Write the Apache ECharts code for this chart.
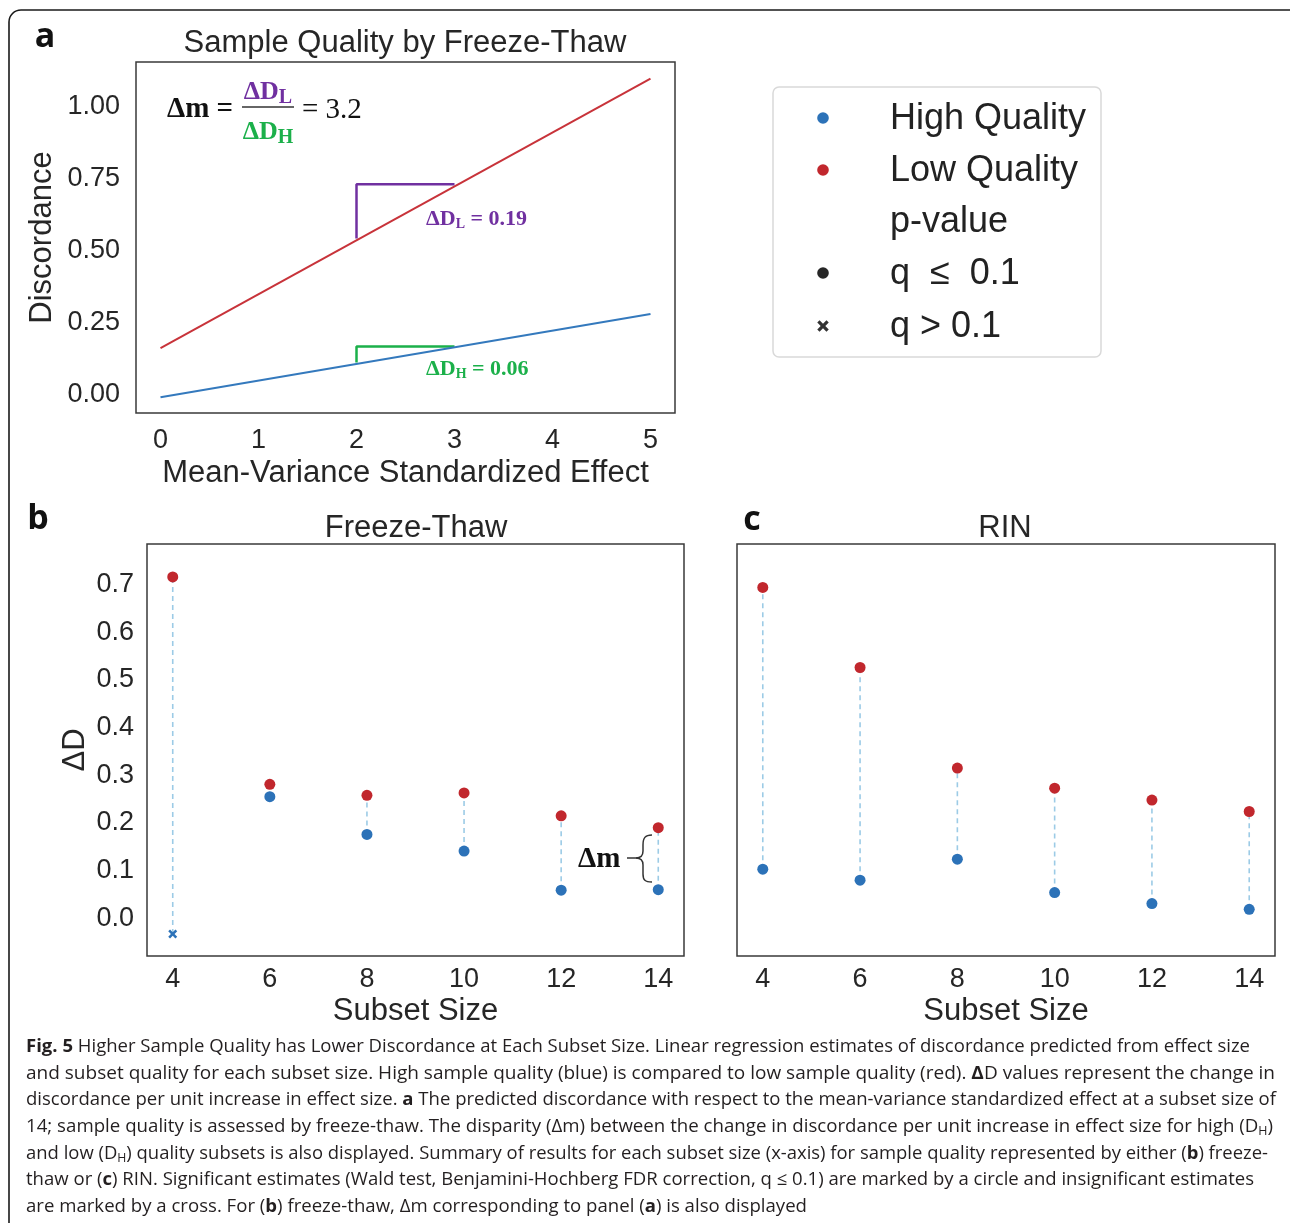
<!DOCTYPE html>
<html><head><meta charset="utf-8">
<script src="https://cdn.jsdelivr.net/npm/echarts@6/dist/echarts.min.js"></script>
<style>html,body{margin:0;padding:0;background:#fff}#c{width:1290px;height:1223px}</style>
</head><body><div id="c"></div>
<script>
// ---------- data ----------
const effectX = [0, 5];
const effectHigh = [-0.008, 0.281];
const effectLow = [0.162, 1.098];
const slopeLowX = [2, 2, 3];
const slopeLowY = [0.543, 0.731, 0.731];
const slopeHighX = [2, 2, 3];
const slopeHighY = [0.112, 0.168, 0.168];
const effectTicks = [0, 1, 2, 3, 4, 5];
const discordanceTicks = [0, 0.25, 0.5, 0.75, 1.0];

const subsetSizes = [4, 6, 8, 10, 12, 14];
const ftHigh = [-0.033, 0.255, 0.176, 0.141, 0.059, 0.060];
const ftLow  = [0.716, 0.281, 0.258, 0.263, 0.215, 0.190];
const ftHighSignificant = [false, true, true, true, true, true];
const ftLowSignificant  = [true, true, true, true, true, true];
const rinHigh = [0.103, 0.080, 0.124, 0.054, 0.031, 0.019];
const rinLow  = [0.694, 0.526, 0.315, 0.273, 0.248, 0.224];
const rinHighSignificant = [true, true, true, true, true, true];
const rinLowSignificant  = [true, true, true, true, true, true];
const deltaDTicks = [0, 0.1, 0.2, 0.3, 0.4, 0.5, 0.6, 0.7];

const legendLabels = ['High Quality', 'Low Quality', 'p-value', 'q  \u2264  0.1', 'q > 0.1'];

// ---------- styling ----------
const BLUE = '#2c72b8', RED = '#c1272d', LINE_BLUE = '#3479bd', LINE_RED = '#c8333a';
const PURPLE = '#7030a0', GREEN = '#1bb04a', DASH = '#9ccbe6', INK = '#262626';
const SANS = '"Liberation Sans", Arial, Helvetica, sans-serif';
const SERIF = '"Liberation Serif", "Times New Roman", serif';
const CAP = '"Open Sans", "Noto Sans", sans-serif';
const CROSS = 'path://M2,0 L5,3 L8,0 L10,2 L7,5 L10,8 L8,10 L5,7 L2,10 L0,8 L3,5 L0,2 Z';

const chart = echarts.init(document.getElementById('c'), null, {renderer: 'canvas'});

function pts(xs, ys) { return xs.map((x, i) => [x, ys[i]]); }

function dots(name, idx, vals, sig, color) {
  return {
    type: 'scatter', name, xAxisIndex: idx, yAxisIndex: idx, z: 4,
    data: subsetSizes.map((s, i) => ({
      value: [s, vals[i]],
      symbol: sig[i] ? 'circle' : CROSS,
      symbolSize: sig[i] ? 11 : 9
    })),
    itemStyle: {color, opacity: 1},
    emphasis: {disabled: true}
  };
}
function connectors(idx, high, low) {
  return {
    type: 'custom', xAxisIndex: idx, yAxisIndex: idx, z: 2, silent: true,
    data: subsetSizes.map((s, i) => [s, high[i], low[i]]),
    encode: {x: 0, y: [1, 2]},
    renderItem: (params, api) => {
      const a = api.coord([api.value(0), api.value(1)]);
      const b = api.coord([api.value(0), api.value(2)]);
      return {type: 'line', shape: {x1: a[0], y1: a[1], x2: b[0], y2: b[1]},
        style: {stroke: DASH, lineWidth: 1.6, lineDash: [5, 4]}};
    }
  };
}

const tickLabel = {fontSize: 27, color: INK, fontFamily: SANS};
const nameStyle = {fontSize: 31, color: INK, fontFamily: SANS};

// ---------- caption ----------
const captionLines = [
  [['b','Fig. 5'],['n',' Higher Sample Quality has Lower Discordance at Each Subset Size. Linear regression estimates of discordance predicted from effect size']],
  [['n','and subset quality for each subset size. High sample quality (blue) is compared to low sample quality (red). '],['b','\u0394'],['n','D values represent the change in']],
  [['n','discordance per unit increase in effect size. '],['b','a'],['n',' The predicted discordance with respect to the mean-variance standardized effect at a subset size of']],
  [['n','14; sample quality is assessed by freeze-thaw. The disparity (\u0394m) between the change in discordance per unit increase in effect size for high (D'],['s','H'],['n',')']],
  [['n','and low (D'],['s','H'],['n',') quality subsets is also displayed. Summary of results for each subset size (x-axis) for sample quality represented by either ('],['b','b'],['n',') freeze-']],
  [['n','thaw or ('],['b','c'],['n',') RIN. Significant estimates (Wald test, Benjamini-Hochberg FDR correction, q \u2264 0.1) are marked by a circle and insignificant estimates']],
  [['n','are marked by a cross. For ('],['b','b'],['n',') freeze-thaw, \u0394m corresponding to panel ('],['b','a'],['n',') is also displayed']]
];
const captionRight = [1250, 1275, 1276, 1273, 1268, 1254, 807];
const captionTop = 1047, captionStep = 26.65, captionLeft = 26;
const capFonts = {n: {size: 18, w: 'normal'}, b: {size: 18, w: 'bold'}, s: {size: 12, w: 'normal'}};
const mctx = document.createElement('canvas').getContext('2d');
function segWidth(kind, txt) {
  const f = capFonts[kind];
  mctx.font = f.w + ' ' + f.size + 'px "Open Sans"';
  return mctx.measureText(txt).width;
}
const captionEls = captionLines.map((segs, li) => {
  const w = segs.reduce((acc, s) => acc + segWidth(s[0], s[1]), 0);
  const target = captionRight[li] - captionLeft;
  return {
    type: 'text', x: captionLeft, y: captionTop + li * captionStep, scaleX: target / w, silent: true,
    style: {
      text: segs.map(s => '{' + s[0] + '|' + s[1] + '}').join(''),
      textAlign: 'left', textVerticalAlign: 'middle',
      rich: {
        n: {fontSize: 18, fontFamily: CAP, fill: '#231f20', color: '#231f20'},
        b: {fontSize: 18, fontFamily: CAP, fontWeight: 'bold', fill: '#231f20', color: '#231f20'},
        s: {fontSize: 12, fontFamily: CAP, fill: '#231f20', color: '#231f20', padding: [9, 0, 0, 0]}
      }
    }
  };
});

// ---------- legend (drawn) ----------
const legendRowY = [118, 170, 221, 273, 326];
const legendSymbols = [['circle', BLUE], ['circle', RED], null, ['circle', '#262626'], ['cross', '#333']];
const legendEls = [{
  type: 'rect', shape: {x: 773, y: 87, width: 328, height: 270, r: 6},
  style: {fill: '#fff', stroke: '#d9d9d9', lineWidth: 1.5}, silent: true
}];
legendLabels.forEach((lab, i) => {
  const sym = legendSymbols[i];
  if (sym && sym[0] === 'circle') {
    legendEls.push({type: 'circle', shape: {cx: 823, cy: legendRowY[i], r: 5.8}, style: {fill: sym[1]}, silent: true});
  } else if (sym) {
    const cx = 823, cy = legendRowY[i], s = 1.15;
    const p = [[2,0],[5,3],[8,0],[10,2],[7,5],[10,8],[8,10],[5,7],[2,10],[0,8],[3,5],[0,2]]
      .map(q => [cx + (q[0] - 5) * s, cy + (q[1] - 5) * s]);
    legendEls.push({type: 'polygon', shape: {points: p}, style: {fill: sym[1]}, silent: true});
  }
  legendEls.push({type: 'text', x: 890, y: legendRowY[i] + 1, silent: true,
    style: {text: lab, fontSize: 36, fontFamily: SANS, fill: '#222', textAlign: 'left', textVerticalAlign: 'middle'}});
});

function gtext(txt, x, y, opts) {
  return Object.assign({type: 'text', x, y, silent: true,
    style: Object.assign({text: txt, textAlign: 'center', textVerticalAlign: 'middle', fill: INK}, opts)});
}
const subRich = (color, size, subSize) => ({
  d: {fontSize: size, fontFamily: SERIF, fontWeight: 'bold', fill: color, color},
  s: {fontSize: subSize, fontFamily: SERIF, fontWeight: 'bold', fill: color, color, padding: [Math.round(size * 0.45), 0, 0, 0]}
});
function seg(x1, y1, x2, y2) {
  return {type: 'line', silent: true, shape: {x1, y1, x2, y2}, style: {stroke: '#333', lineWidth: 1.5}};
}
function curve(x1, y1, cpx1, cpy1, cpx2, cpy2, x2, y2) {
  return {type: 'bezierCurve', silent: true, shape: {x1, y1, cpx1, cpy1, cpx2, cpy2, x2, y2},
    style: {stroke: '#333', lineWidth: 1.5, fill: null}};
}

const annotEls = [
  // panel letters & titles
  gtext('a', 45, 37, {fontSize: 34, fontWeight: 'bold', fontFamily: CAP, fill: '#111'}),
  gtext('b', 38, 519, {fontSize: 34, fontWeight: 'bold', fontFamily: CAP, fill: '#111'}),
  gtext('c', 752, 520, {fontSize: 34, fontWeight: 'bold', fontFamily: CAP, fill: '#111'}),
  gtext('Sample Quality by Freeze-Thaw', 405, 43, {fontSize: 31, fontFamily: SANS}),
  gtext('Freeze-Thaw', 416, 528, {fontSize: 31, fontFamily: SANS}),
  gtext('RIN', 1005, 528, {fontSize: 31, fontFamily: SANS}),
  // formula in panel a
  gtext('\u0394m =', 167, 110, {fontSize: 29, fontFamily: SERIF, fontWeight: 'bold', textAlign: 'left', fill: '#111'}),
  seg(242, 107, 294, 107),
  gtext('{d|\u0394D}{s|L}', 268, 92, {rich: subRich(PURPLE, 26, 20)}),
  gtext('{d|\u0394D}{s|H}', 268, 132, {rich: subRich(GREEN, 26, 20)}),
  gtext('= 3.2', 302, 110, {fontSize: 29, fontFamily: SERIF, textAlign: 'left', fill: '#111'}),
  gtext('{d|\u0394D}{s|L}{d| = 0.19}', 426, 219, {textAlign: 'left', rich: subRich(PURPLE, 22, 14)}),
  gtext('{d|\u0394D}{s|H}{d| = 0.06}', 426, 369, {textAlign: 'left', rich: subRich(GREEN, 22, 14)}),
  // delta-m brace in panel b
  gtext('\u0394m', 578, 860, {fontSize: 29, fontFamily: SERIF, fontWeight: 'bold', textAlign: 'left', fill: '#111'}),
  curve(652, 835, 645, 835, 643, 838, 643, 845),
  seg(643, 845, 643, 851),
  curve(643, 851, 643, 856, 641, 858, 636, 858),
  curve(636, 858, 641, 858, 643, 860, 643, 865),
  seg(643, 865, 643, 874),
  curve(643, 874, 643, 880, 645, 882, 652, 882),
  seg(627, 858, 636, 858),
  // outer frame
  {type: 'rect', silent: true, z: 100, shape: {x: 9, y: 10, width: 1300, height: 1260, r: 12},
   style: {fill: null, stroke: '#1a1a1a', lineWidth: 1.6}}
];

const option = {
  backgroundColor: '#fff',
  animation: false,
  grid: [
    {left: 136, top: 62, width: 539, height: 351, show: true, borderColor: '#3a3a3a', borderWidth: 1.5, backgroundColor: 'transparent'},
    {left: 147, top: 544, width: 537, height: 412, show: true, borderColor: '#3a3a3a', borderWidth: 1.5, backgroundColor: 'transparent'},
    {left: 737, top: 544, width: 538, height: 412, show: true, borderColor: '#3a3a3a', borderWidth: 1.5, backgroundColor: 'transparent'}
  ],
  xAxis: [
    {type: 'value', gridIndex: 0, min: -0.25, max: 5.25,
     axisLine: {show: false}, axisTick: {show: false}, splitLine: {show: false},
     axisLabel: Object.assign({margin: 14, customValues: effectTicks}, tickLabel),
     name: 'Mean-Variance Standardized Effect', nameLocation: 'middle', nameGap: 45, nameTextStyle: nameStyle},
    {type: 'value', gridIndex: 1, min: 3.47, max: 14.53,
     axisLine: {show: false}, axisTick: {show: false}, splitLine: {show: false},
     axisLabel: Object.assign({margin: 10, customValues: subsetSizes}, tickLabel),
     name: 'Subset Size', nameLocation: 'middle', nameGap: 40, nameTextStyle: nameStyle},
    {type: 'value', gridIndex: 2, min: 3.47, max: 14.53,
     axisLine: {show: false}, axisTick: {show: false}, splitLine: {show: false},
     axisLabel: Object.assign({margin: 10, customValues: subsetSizes}, tickLabel),
     name: 'Subset Size', nameLocation: 'middle', nameGap: 40, nameTextStyle: nameStyle}
  ],
  yAxis: [
    {type: 'value', gridIndex: 0, min: -0.063, max: 1.156,
     axisLine: {show: false}, axisTick: {show: false}, splitLine: {show: false},
     axisLabel: Object.assign({margin: 16, customValues: discordanceTicks, formatter: v => v.toFixed(2)}, tickLabel),
     name: 'Discordance', nameLocation: 'middle', nameGap: 78, nameRotate: 90, nameTextStyle: nameStyle},
    {type: 'value', gridIndex: 1, min: -0.079, max: 0.785,
     axisLine: {show: false}, axisTick: {show: false}, splitLine: {show: false},
     axisLabel: Object.assign({margin: 13, customValues: deltaDTicks, formatter: v => v.toFixed(1)}, tickLabel),
     name: '\u0394D', nameLocation: 'middle', nameGap: 56, nameRotate: 90, nameTextStyle: nameStyle},
    {type: 'value', gridIndex: 2, min: -0.079, max: 0.785,
     axisLine: {show: false}, axisTick: {show: false}, splitLine: {show: false},
     axisLabel: {show: false}}
  ],
  series: [
    {type: 'line', name: 'High Quality fit', xAxisIndex: 0, yAxisIndex: 0, data: pts(effectX, effectHigh),
     showSymbol: false, lineStyle: {color: LINE_BLUE, width: 2}, z: 3, silent: true},
    {type: 'line', name: 'Low Quality fit', xAxisIndex: 0, yAxisIndex: 0, data: pts(effectX, effectLow),
     showSymbol: false, lineStyle: {color: LINE_RED, width: 2}, z: 3, silent: true},
    {type: 'line', name: '\u0394DL', xAxisIndex: 0, yAxisIndex: 0, data: pts(slopeLowX, slopeLowY),
     showSymbol: false, lineStyle: {color: PURPLE, width: 2.5}, z: 2, silent: true},
    {type: 'line', name: '\u0394DH', xAxisIndex: 0, yAxisIndex: 0, data: pts(slopeHighX, slopeHighY),
     showSymbol: false, lineStyle: {color: GREEN, width: 2.5}, z: 2, silent: true},
    connectors(1, ftHigh, ftLow),
    dots('High Quality', 1, ftHigh, ftHighSignificant, BLUE),
    dots('Low Quality', 1, ftLow, ftLowSignificant, RED),
    connectors(2, rinHigh, rinLow),
    dots('High Quality', 2, rinHigh, rinHighSignificant, BLUE),
    dots('Low Quality', 2, rinLow, rinLowSignificant, RED)
  ],
  graphic: {elements: [].concat(legendEls, annotEls, captionEls)}
};
chart.setOption(option);
</script>
</body></html>
